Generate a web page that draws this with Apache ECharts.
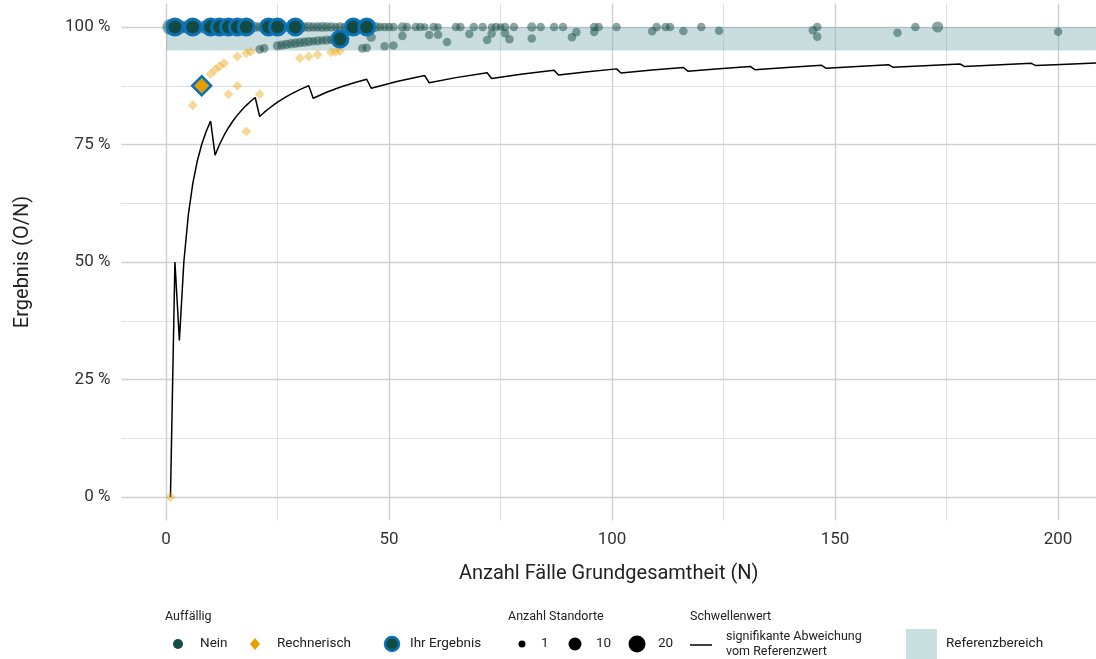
<!DOCTYPE html>
<html>
<head>
<meta charset="utf-8">
<script src="https://cdn.jsdelivr.net/npm/echarts@6/dist/echarts.min.js"></script>
<style>
html,body{margin:0;padding:0;background:#fff;}
#chart{width:1096px;height:659px;}
</style>
</head>
<body>
<div id="chart"></div>
<script>
// ---- tick definitions ----
const xTicks = [0, 50, 100, 150, 200];
const xMinor = [25, 75, 125, 175];
const yTicks = [0, 25, 50, 75, 100];
const yMinor = [12.5, 37.5, 62.5, 87.5];

// ---- reference range (Referenzbereich) ----
const refLow = 95;
const refHigh = 100;

// ---- threshold line: [N, %] ----
const thresholdLine = [
  [1,0],[2,50],[3,33.33],[4,50],[5,60],[6,66.67],[7,71.43],[8,75],[9,77.78],[10,80],
  [11,72.73],[12,75],[13,76.92],[14,78.57],[15,80],[16,81.25],[17,82.35],[18,83.33],[19,84.21],[20,85],
  [21,80.95],[22,81.82],[23,82.61],[24,83.33],[25,84],[26,84.62],[27,85.19],[28,85.71],[29,86.21],[30,86.67],[31,87.10],[32,87.5],
  [33,84.85],[36,86.11],[39,87.18],[42,88.10],[45,88.89],
  [46,86.96],[52,88.46],[58,89.66],
  [59,88.14],[65,89.23],[72,90.28],
  [73,89.04],[80,90.0],[87,90.80],
  [88,89.77],[94,90.43],[101,91.09],
  [102,90.20],[109,90.83],[116,91.38],
  [117,90.60],[124,91.13],[131,91.60],
  [132,90.91],[140,91.43],[147,91.84],
  [148,91.22],[155,91.61],[162,91.98],
  [163,91.41],[170,91.76],[178,92.13],
  [179,91.62],[186,91.94],[194,92.27],
  [195,91.79],[202,92.08],[210,92.38]
];

// ---- "Nein" points: [N, %, Anzahl Standorte] ----
const neinPoints = [
  [1,100,20],[2,100,16],[3,100,12],[4,100,10],[5,100,9],[6,100,12],[7,100,7],[8,100,9],[9,100,6],[10,100,8],
  [11,100,5],[12,100,6],[13,100,5],[14,100,6],[15,100,4],[16,100,5],[17,100,4],[18,100,5],[19,100,3],[20,100,4],
  [21,100,3],[22,100,4],[23,100,3],[24,100,3],[25,100,4],[26,100,3],[27,100,3],[28,100,4],[29,100,3],[30,100,5],
  [31,100,3],[32,100,4],[33,100,3],[34,100,3],[35,100,4],[36,100,3],[37,100,3],[38,100,2],[39,100,3],[40,100,2],
  [41,100,3],[42,100,2],[43,100,3],[44,100,2],[45,100,3],[46,100,2],[47,100,4],[48,100,2],[49,100,2],[50,100,2],
  [51,100,2],[53,100,3],[54,100,2],[56,100,2],[57,100,2],[58,100,1],[60,100,2],[61,100,1],[65,100,2],[66,100,2],
  [69,100,2],[71,100,2],[73,100,1],[74,100,2],[75,100,1],[76,100,2],[78,100,2],[82,100,3],[84,100,2],[87,100,2],
  [89,100,2],[96,100,2],[97,100,2],[101,100,2],[110,100,2],[112,100,2],[113,100,2],[120,100,2],[146,100,2],[168,100,2],[173,100,6],
  [21,95.24,2],[22,95.45,2],[25,96.0,3],[26,96.15,3],[27,96.3,3],[28,96.43,3],[29,96.55,3],[30,96.67,3],[31,96.77,3],
  [32,96.88,3],[33,96.97,2],[34,97.06,3],[35,97.14,2],[36,97.22,3],[37,97.3,2],
  [44,95.45,2],[45,95.56,2],[46,97.83,3],[49,95.92,2],[51,96.08,2],[53,98.11,2],[59,98.31,2],[61,98.36,2],
  [63,96.83,2],[68,98.53,2],[72,97.22,2],[73,98.63,2],[76,98.68,2],[77,97.4,2],[82,97.56,2],[91,97.8,2],
  [92,98.91,2],[96,98.96,2],[109,99.08,2],[116,99.14,2],[124,99.19,2],[145,99.31,2],[146,97.95,2],[164,98.78,2],[200,99.0,2]
];

// ---- "Rechnerisch" points: [N, %] ----
const rechnerischPoints = [
  [1,0],[6,83.33],[10,90],[11,90.91],[12,91.67],[13,92.31],[14,85.71],[16,87.5],[16,93.75],
  [18,77.78],[18,94.44],[19,94.74],[21,85.71],[30,93.33],[32,93.75],[34,94.12],[37,94.59],[38,94.74],[39,94.87]
];

// ---- "Ihr Ergebnis" points ----
const ihrErgebnisNein = [
  [2,100],[6,100],[10,100],[12,100],[14,100],[16,100],[18,100],[23,100],[25,100],[29,100],[42,100],[45,100],[39,97.44]
];
const ihrErgebnisRechnerisch = [[8,87.5]];

const FONT = 'Roboto, "Noto Sans", sans-serif';
const tealDark = '#174d48';
const orange = '#e69f00';
const blue = '#0a72b8';

function sizeFor(s){ return 5 + 2.5*Math.sqrt(s); }

const gridMajor = {color:'#d0d0d0', width:1.4, type:'solid'};
const gridMinor = {color:'#e0e0e0', width:1, type:'solid'};
const gridData = []
  .concat(xMinor.map(v=>({xAxis:v, lineStyle:gridMinor})))
  .concat(yMinor.map(v=>({yAxis:v, lineStyle:gridMinor})))
  .concat(xTicks.map(v=>({xAxis:v, lineStyle:gridMajor})))
  .concat(yTicks.map(v=>({yAxis:v, lineStyle:gridMajor})));

const chart = echarts.init(document.getElementById('chart'), null, {renderer:'canvas'});

const legendY = 644;
const titleY = 617;
const txt = (x,y,t,size,extra) => Object.assign({type:'text', x:x, y:y, style:{text:t, fill:'#222', font: (size||13)+'px '+FONT, textVerticalAlign:'middle', textAlign:'left'}}, extra||{});

const option = {
  animation:false,
  backgroundColor:'#ffffff',
  textStyle:{fontFamily:FONT},
  grid:{left:121.4, top:3.5, width:974.6, height:517, containLabel:false},
  xAxis:{
    type:'value', min:-10, max:208.5,
    name:'Anzahl Fälle Grundgesamtheit (N)', nameLocation:'middle', nameGap:43,
    nameTextStyle:{fontSize:20, color:'#222', fontFamily:FONT},
    axisLine:{show:false}, axisTick:{show:false},
    splitLine:{show:false},
    axisLabel:{customValues:xTicks, fontSize:17, color:'#333', margin:11, fontFamily:FONT}
  },
  yAxis:{
    type:'value', min:-5, max:105,
    name:'Ergebnis (O/N)', nameLocation:'middle', nameGap:88, nameRotate:90,
    nameTextStyle:{fontSize:20, color:'#222', fontFamily:FONT},
    axisLine:{show:false}, axisTick:{show:false},
    splitLine:{show:false},
    axisLabel:{customValues:yTicks, fontSize:17, color:'#333', margin:11, fontFamily:FONT,
      formatter:v=>v+' %'}
  },
  series:[
    {type:'line', data:[], z:0, silent:true,
      markLine:{silent:true, z:0, symbol:['none','none'], label:{show:false}, data:gridData, animation:false}},
    {type:'line', data:[], z:1, silent:true,
      markArea:{silent:true, z:1, itemStyle:{color:'rgba(120,170,175,0.4)'},
        data:[[{xAxis:0, yAxis:refLow},{xAxis:208.5, yAxis:refHigh}]]}},
    {name:'Schwellenwert', type:'line', data:thresholdLine, z:2, symbol:'none', showSymbol:false,
      lineStyle:{color:'#000', width:1.5}, clip:true},
    {name:'Nein', type:'scatter', data:neinPoints, z:3,
      symbolSize:(v)=>sizeFor(v[2]),
      itemStyle:{color:tealDark, opacity:0.5}},
    {name:'Rechnerisch', type:'scatter', data:rechnerischPoints, z:3, symbol:'diamond',
      symbolSize:10, itemStyle:{color:orange, opacity:0.4}},
    {name:'Ihr Ergebnis', type:'scatter', data:ihrErgebnisNein, z:5, symbolSize:16,
      itemStyle:{color:'#124a44', borderColor:blue, borderWidth:3, opacity:1}},
    {name:'Ihr Ergebnis R', type:'scatter', data:ihrErgebnisRechnerisch, z:5, symbol:'diamond', symbolSize:19,
      itemStyle:{color:orange, borderColor:blue, borderWidth:2.5, opacity:1}}
  ],
  graphic:[
    txt(165,titleY,'Auffällig',12.5),
    {type:'circle', shape:{cx:178, cy:legendY, r:5}, style:{fill:tealDark}},
    txt(200,legendY,'Nein',13.5),
    {type:'polygon', shape:{points:[[255,legendY-6],[260,legendY],[255,legendY+6],[250,legendY]]}, style:{fill:orange}},
    txt(277,legendY,'Rechnerisch',13.5),
    {type:'circle', shape:{cx:392, cy:legendY, r:7}, style:{fill:'#124a44', stroke:blue, lineWidth:2.5}},
    txt(410,legendY,'Ihr Ergebnis',13.5),

    txt(508,titleY,'Anzahl Standorte',12.5),
    {type:'circle', shape:{cx:522, cy:legendY, r:3.5}, style:{fill:'#000'}},
    txt(541,legendY,'1',13.5),
    {type:'circle', shape:{cx:575, cy:legendY, r:6.5}, style:{fill:'#000'}},
    txt(596,legendY,'10',13.5),
    {type:'circle', shape:{cx:637, cy:legendY, r:8.5}, style:{fill:'#000'}},
    txt(658,legendY,'20',13.5),

    txt(690,titleY,'Schwellenwert',12.5),
    {type:'line', shape:{x1:690, y1:legendY+1, x2:712, y2:legendY+1}, style:{stroke:'#000', lineWidth:1.5}},
    txt(726,legendY,'signifikante Abweichung\nvom Referenzwert',12.5,{style:{text:'signifikante Abweichung\nvom Referenzwert', fill:'#222', font:'12.5px '+FONT, textVerticalAlign:'middle', textAlign:'left', lineHeight:15}}),

    {type:'rect', shape:{x:906, y:629, width:31, height:30}, style:{fill:'#c9dfe0'}},
    txt(946,legendY,'Referenzbereich',13.5)
  ]
};
chart.setOption(option);
</script>
</body>
</html>
